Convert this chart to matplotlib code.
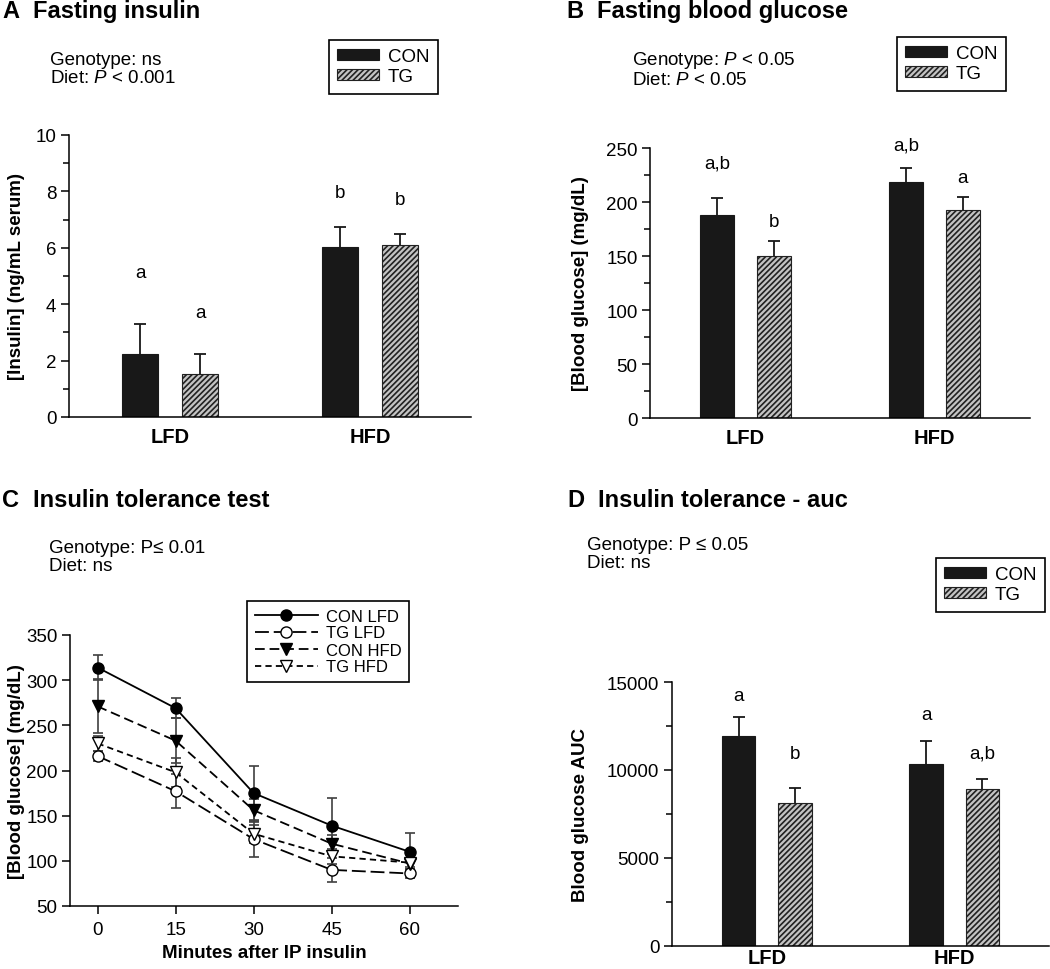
import numpy as np
import matplotlib
matplotlib.use("Agg")
import matplotlib.pyplot as plt
from matplotlib.ticker import MultipleLocator

plt.rcParams['font.family'] = ['Liberation Sans', 'DejaVu Sans']
plt.rcParams['mathtext.fontset'] = 'custom'
plt.rcParams['mathtext.rm'] = 'Liberation Sans'
plt.rcParams['mathtext.it'] = 'Liberation Sans:italic'
plt.rcParams['hatch.linewidth'] = 1.2
plt.rcParams['lines.scale_dashes'] = False

# ---- data ----
diets = ["LFD", "HFD"]
groups = ["CON", "TG"]

# A fasting insulin (ng/mL)
ins_con = [2.25, 6.04]
ins_con_err = [1.06, 0.68]
ins_tg = [1.54, 6.09]
ins_tg_err = [0.71, 0.40]
ins_letters_con = ["a", "b"]
ins_letters_tg = ["a", "b"]

# B fasting blood glucose (mg/dL)
glu_con = [187.6, 218.5]
glu_con_err = [16.0, 13.0]
glu_tg = [149.6, 192.8]
glu_tg_err = [14.5, 12.1]
glu_letters_con = ["a,b", "a,b"]
glu_letters_tg = ["b", "a"]

# C insulin tolerance test
minutes = [0, 15, 30, 45, 60]
itt_labels = ["CON LFD", "TG LFD", "CON HFD", "TG HFD"]
itt_con_lfd = [314, 269, 175, 139, 110]
itt_con_lfd_err = [14, 11, 30, 31, 21]
itt_tg_lfd = [216, 177, 124, 90, 86]
itt_tg_lfd_err = [6, 19, 20, 13, 5]
itt_con_hfd = [271, 233, 156, 119, 97]
itt_con_hfd_err = [30, 25, 13, 10, 6]
itt_tg_hfd = [230, 198, 130, 105, 98]
itt_tg_hfd_err = [8, 16, 10, 8, 5]

# D insulin tolerance AUC
auc_con = [11960, 10350]
auc_con_err = [1030, 1290]
auc_tg = [8110, 8920]
auc_tg_err = [870, 570]
auc_letters_con = ["a", "a"]
auc_letters_tg = ["b", "a,b"]

W, H = 1050, 970
fig = plt.figure(figsize=(W / 100, H / 100), dpi=100)


def px_axes(x0, y0, x1, y1):
    return fig.add_axes([x0 / W, 1 - y1 / H, (x1 - x0) / W, (y1 - y0) / H])


def style_axes(ax):
    for s in ['top', 'right']:
        ax.spines[s].set_visible(False)
    for s in ['left', 'bottom']:
        ax.spines[s].set_linewidth(1.1)
    ax.tick_params(axis='y', which='major', length=6, width=1.1, labelsize=13.5, pad=3)
    ax.tick_params(axis='y', which='minor', length=4.5, width=1.1)


def up_errorbar(ax, x, y, err):
    # only the upper half of the error bar, like the original figure
    _, caps, _ = ax.errorbar(x, y, yerr=[np.zeros(len(y)), err], fmt='none',
                             ecolor='#181818', elinewidth=1.3, capsize=4, capthick=1.3)
    caps[0].set_visible(False)


def bar_panel(ax, con, con_err, tg, tg_err, ymax, major, minor, ylabel, labelpad,
              let_con, let_tg, let_y_con, let_y_tg, xpad=7):
    x = np.arange(len(diets))
    ax.bar(x - 0.15, con, 0.18, color='#181818', edgecolor='#181818', lw=0.8, label=groups[0])
    ax.bar(x + 0.15, tg, 0.18, color='#c4c4c4', edgecolor='#222222', lw=0.8,
           hatch='//////', label=groups[1])
    up_errorbar(ax, x - 0.15, con, con_err)
    up_errorbar(ax, x + 0.15, tg, tg_err)
    for i in range(len(x)):
        ax.text(x[i] - 0.15, let_y_con[i], let_con[i], ha='center', va='baseline', fontsize=13.5)
        ax.text(x[i] + 0.15, let_y_tg[i], let_tg[i], ha='center', va='baseline', fontsize=13.5)
    ax.set_xlim(-0.505, 1.505)
    ax.set_ylim(0, ymax)
    ax.yaxis.set_major_locator(MultipleLocator(major))
    ax.yaxis.set_minor_locator(MultipleLocator(minor))
    ax.set_xticks(x)
    ax.set_xticklabels(diets, fontsize=14.5, fontweight='bold')
    ax.tick_params(axis='x', length=0, pad=xpad)
    style_axes(ax)
    ax.set_ylabel(ylabel, fontsize=13.5, fontweight='bold', labelpad=labelpad)


def bar_legend(ax, fx, fy):
    leg = ax.legend(loc='upper left', bbox_to_anchor=(fx / W, 1 - fy / H),
                    bbox_transform=fig.transFigure, fontsize=13.5, frameon=True,
                    fancybox=False, framealpha=1, edgecolor='black',
                    handlelength=2.2, handleheight=0.55, handletextpad=0.5,
                    labelspacing=0.15, borderpad=0.45, borderaxespad=0)
    leg.get_frame().set_linewidth(1.2)


def panel_title(x, y, letter, title):
    fig.text(x / W, 1 - y / H, letter, fontsize=17, fontweight='bold', va='baseline')
    fig.text((x + 31) / W, 1 - y / H, title, fontsize=17, fontweight='bold', va='baseline')


def stats_text(x, y, s):
    fig.text(x / W, 1 - y / H, s, fontsize=13.5, va='top', linespacing=1.1)


# ---- A ----
axA = px_axes(69, 136, 471, 418)
bar_panel(axA, ins_con, ins_con_err, ins_tg, ins_tg_err, 10, 2, 1,
          "[Insulin] (ng/mL serum)", 8, ins_letters_con, ins_letters_tg,
          [4.95, 7.79], [3.55, 7.55])
bar_legend(axA, 329, 41)
panel_title(2, 18, "A", "Fasting insulin")
stats_text(50, 52, "Genotype: ns\nDiet: $P$ < 0.001")

# ---- B ----
axB = px_axes(650, 149, 1030, 419)
bar_panel(axB, glu_con, glu_con_err, glu_tg, glu_tg_err, 250, 50, 25,
          "[Blood glucose] (mg/dL)", 12, glu_letters_con, glu_letters_tg,
          [232, 249], [178, 218.5])
bar_legend(axB, 897, 38)
panel_title(566, 18, "B", "Fasting blood glucose")
stats_text(632, 50, "Genotype: $P$ < 0.05\nDiet: $P$ < 0.05")

# ---- C ----
axC = px_axes(70, 636, 458, 907)
series = [
    (itt_con_lfd, itt_con_lfd_err, 'o', 'black', '-'),
    (itt_tg_lfd, itt_tg_lfd_err, 'o', 'white', (0, (10, 3.5))),
    (itt_con_hfd, itt_con_hfd_err, 'v', 'black', (0, (7, 3.5))),
    (itt_tg_hfd, itt_tg_hfd_err, 'v', 'white', (0, (4.5, 3))),
]
for (vals, errs, mk, fc, ls), lab in zip(series, itt_labels):
    axC.errorbar(minutes, vals, yerr=errs, fmt='none', ecolor='#404040',
                 elinewidth=1.2, capsize=3.6, capthick=1.2, zorder=2)
    axC.plot(minutes, vals, linestyle=ls, color='black', lw=1.3, marker=mk,
             markersize=8, markerfacecolor=fc, markeredgecolor='black',
             markeredgewidth=1.0, label=lab, zorder=3)
axC.set_xlim(-5.3, 69.3)
axC.set_ylim(50, 350)
axC.set_xticks(minutes)
axC.yaxis.set_major_locator(MultipleLocator(50))
style_axes(axC)
axC.tick_params(axis='x', length=6, width=1.1, labelsize=13.5, pad=5)
axC.set_xlabel("Minutes after IP insulin", fontsize=13.5, fontweight='bold', labelpad=4)
axC.set_ylabel("[Blood glucose] (mg/dL)", fontsize=13.5, fontweight='bold', labelpad=1)
legC = axC.legend(loc='upper left', bbox_to_anchor=(247 / W, 1 - 602 / H),
                  bbox_transform=fig.transFigure, fontsize=12, frameon=True,
                  fancybox=False, framealpha=1, edgecolor='black',
                  handlelength=3.8, handletextpad=0.5, labelspacing=0.12,
                  borderpad=0.45, borderaxespad=0)
legC.get_frame().set_linewidth(1.2)
panel_title(2, 507, "C", "Insulin tolerance test")
stats_text(49, 540, "Genotype: P\u2264 0.01\nDiet: ns")

# ---- D ----
axD = px_axes(672, 683, 1049, 947)
bar_panel(axD, auc_con, auc_con_err, auc_tg, auc_tg_err, 15000, 5000, 2500,
          "Blood glucose AUC", 13, auc_letters_con, auc_letters_tg,
          [13956, 12873], [10690, 10690], xpad=1.5)
bar_legend(axD, 936, 559)
panel_title(567, 507, "D", "Insulin tolerance - auc")
stats_text(587, 537, "Genotype: P \u2264 0.05\nDiet: ns")

fig.savefig("out.png", dpi=100)
